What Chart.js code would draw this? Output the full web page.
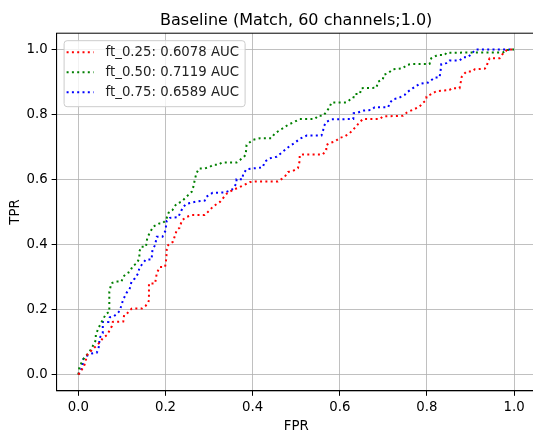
<!DOCTYPE html>
<html>
<head>
<meta charset="utf-8">
<script src="https://cdn.jsdelivr.net/npm/chart.js@4/dist/chart.umd.min.js"></script>
<style>
  html, body { margin: 0; padding: 0; background: #fff; overflow: hidden; }
  #wrap { width: 540px; height: 433px; position: relative; }
</style>
</head>
<body>
<div id="wrap"><canvas id="roc"></canvas></div>
<script>
// series names + AUC shown in legend
const seriesNames = ["ft_0.25", "ft_0.50", "ft_0.75"];
const aucValues = ["0.6078", "0.7119", "0.6589"];
const seriesColors = ["#ff0000", "#008000", "#0000ff"];

const xTicks = [0, 0.2, 0.4, 0.6, 0.8, 1.0];
const yTicks = [0, 0.2, 0.4, 0.6, 0.8, 1.0];

// ft_0.25 (red)
const fpr25 = [0, 0.006, 0.013, 0.016, 0.020, 0.033, 0.050, 0.056, 0.066, 0.072, 0.077, 0.079, 0.103, 0.105, 0.111, 0.118, 0.123, 0.146, 0.154, 0.160, 0.162, 0.162, 0.176, 0.180, 0.187, 0.199, 0.202, 0.203, 0.210, 0.217, 0.226, 0.232, 0.238, 0.249, 0.261, 0.290, 0.302, 0.309, 0.325, 0.341, 0.355, 0.371, 0.394, 0.407, 0.458, 0.467, 0.474, 0.481, 0.492, 0.504, 0.508, 0.508, 0.515, 0.561, 0.569, 0.569, 0.577, 0.589, 0.600, 0.611, 0.623, 0.630, 0.641, 0.653, 0.692, 0.699, 0.745, 0.754, 0.767, 0.783, 0.790, 0.799, 0.799, 0.811, 0.822, 0.852, 0.857, 0.875, 0.878, 0.880, 0.887, 0.891, 0.903, 0.910, 0.933, 0.937, 0.940, 0.944, 0.967, 0.975, 0.985, 1.0];
const tpr25 = [0, 0.011, 0.026, 0.038, 0.060, 0.078, 0.100, 0.112, 0.122, 0.137, 0.149, 0.162, 0.163, 0.183, 0.186, 0.198, 0.203, 0.203, 0.211, 0.220, 0.229, 0.280, 0.280, 0.312, 0.331, 0.331, 0.358, 0.394, 0.403, 0.408, 0.445, 0.451, 0.475, 0.485, 0.491, 0.491, 0.506, 0.517, 0.531, 0.557, 0.568, 0.577, 0.592, 0.594, 0.594, 0.602, 0.609, 0.623, 0.626, 0.635, 0.657, 0.675, 0.677, 0.677, 0.691, 0.706, 0.712, 0.717, 0.728, 0.732, 0.743, 0.752, 0.769, 0.786, 0.786, 0.794, 0.796, 0.806, 0.814, 0.824, 0.835, 0.845, 0.855, 0.863, 0.872, 0.875, 0.881, 0.881, 0.901, 0.916, 0.927, 0.932, 0.932, 0.939, 0.941, 0.947, 0.962, 0.973, 0.973, 0.988, 1.0, 1.0];

// ft_0.50 (green)
const fpr50 = [0, 0.002, 0.010, 0.019, 0.025, 0.031, 0.040, 0.040, 0.046, 0.056, 0.063, 0.071, 0.071, 0.076, 0.086, 0.099, 0.103, 0.111, 0.118, 0.125, 0.134, 0.140, 0.140, 0.144, 0.155, 0.158, 0.163, 0.172, 0.186, 0.193, 0.201, 0.208, 0.216, 0.225, 0.237, 0.252, 0.260, 0.264, 0.267, 0.271, 0.277, 0.290, 0.302, 0.309, 0.321, 0.329, 0.363, 0.371, 0.384, 0.386, 0.392, 0.401, 0.417, 0.443, 0.451, 0.470, 0.481, 0.497, 0.508, 0.543, 0.550, 0.562, 0.570, 0.577, 0.581, 0.615, 0.623, 0.631, 0.634, 0.646, 0.650, 0.684, 0.688, 0.699, 0.701, 0.711, 0.722, 0.745, 0.753, 0.764, 0.806, 0.810, 0.825, 0.841, 0.845, 0.975, 0.982, 1.0];
const tpr50 = [0, 0.020, 0.045, 0.060, 0.069, 0.082, 0.106, 0.122, 0.143, 0.168, 0.186, 0.193, 0.255, 0.281, 0.286, 0.286, 0.301, 0.311, 0.316, 0.334, 0.342, 0.358, 0.378, 0.393, 0.393, 0.419, 0.434, 0.455, 0.465, 0.465, 0.475, 0.501, 0.506, 0.525, 0.532, 0.552, 0.562, 0.578, 0.598, 0.619, 0.634, 0.634, 0.639, 0.645, 0.645, 0.652, 0.652, 0.660, 0.675, 0.706, 0.713, 0.722, 0.727, 0.727, 0.742, 0.758, 0.768, 0.778, 0.786, 0.786, 0.796, 0.796, 0.809, 0.824, 0.837, 0.837, 0.845, 0.850, 0.863, 0.863, 0.881, 0.882, 0.901, 0.908, 0.922, 0.927, 0.939, 0.942, 0.952, 0.955, 0.955, 0.973, 0.983, 0.983, 0.990, 0.991, 0.998, 1.0];

// ft_0.75 (blue)
const fpr75 = [0, 0.004, 0.010, 0.010, 0.015, 0.023, 0.031, 0.042, 0.046, 0.048, 0.048, 0.056, 0.056, 0.069, 0.072, 0.080, 0.088, 0.095, 0.099, 0.103, 0.111, 0.118, 0.122, 0.130, 0.137, 0.140, 0.145, 0.155, 0.168, 0.170, 0.176, 0.180, 0.193, 0.201, 0.201, 0.203, 0.210, 0.229, 0.237, 0.241, 0.248, 0.260, 0.271, 0.290, 0.294, 0.300, 0.308, 0.336, 0.352, 0.363, 0.363, 0.377, 0.378, 0.386, 0.423, 0.428, 0.439, 0.455, 0.466, 0.485, 0.497, 0.508, 0.524, 0.558, 0.562, 0.563, 0.569, 0.581, 0.631, 0.632, 0.642, 0.653, 0.673, 0.680, 0.711, 0.715, 0.722, 0.734, 0.749, 0.753, 0.768, 0.783, 0.803, 0.818, 0.829, 0.831, 0.833, 0.845, 0.852, 0.875, 0.883, 0.894, 0.902, 0.912, 1.0];
const tpr75 = [0, 0.008, 0.029, 0.045, 0.055, 0.060, 0.065, 0.067, 0.078, 0.096, 0.111, 0.127, 0.162, 0.162, 0.176, 0.178, 0.186, 0.196, 0.214, 0.231, 0.252, 0.265, 0.286, 0.296, 0.311, 0.327, 0.337, 0.354, 0.354, 0.383, 0.398, 0.424, 0.424, 0.445, 0.460, 0.473, 0.482, 0.484, 0.506, 0.516, 0.525, 0.529, 0.532, 0.535, 0.547, 0.552, 0.559, 0.560, 0.568, 0.588, 0.601, 0.601, 0.616, 0.632, 0.637, 0.655, 0.665, 0.670, 0.682, 0.703, 0.713, 0.725, 0.735, 0.735, 0.752, 0.762, 0.777, 0.785, 0.786, 0.804, 0.806, 0.812, 0.814, 0.822, 0.822, 0.836, 0.847, 0.850, 0.860, 0.867, 0.881, 0.894, 0.898, 0.914, 0.914, 0.929, 0.955, 0.958, 0.966, 0.966, 0.976, 0.976, 0.986, 1.0, 1.0];

const FONT = "'DejaVu Sans', 'Liberation Sans', sans-serif";

function toPoints(xs, ys) {
  return xs.map((x, i) => ({ x: x, y: ys[i] }));
}

const curves = [[fpr25, tpr25], [fpr50, tpr50], [fpr75, tpr75]];

const datasets = curves.map((c, i) => ({
  label: seriesNames[i] + ": " + aucValues[i] + " AUC",
  data: toPoints(c[0], c[1]),
  borderColor: seriesColors[i],
  backgroundColor: seriesColors[i],
  borderWidth: 2,
  borderDash: [2, 3.3],
  borderCapStyle: "butt",
  pointRadius: 0,
  tension: 0,
  fill: false,
}));

// frame on top of lines + matplotlib style legend box in the upper left
const framePlugin = {
  id: "frameAndLegend",
  afterDraw(chart) {
    const ctx = chart.ctx;
    const a = chart.chartArea;
    ctx.save();
    ctx.strokeStyle = "#000";
    ctx.lineWidth = 1;
    ctx.setLineDash([]);
    ctx.strokeRect(a.left, a.top, a.right - a.left, a.bottom - a.top);

    // legend
    const bx = a.left + 7, by = a.top + 7;
    const bw = 181, bh = 66;
    ctx.fillStyle = "rgba(255,255,255,0.8)";
    ctx.strokeStyle = "#cccccc";
    ctx.lineWidth = 1;
    ctx.beginPath();
    ctx.roundRect(bx + 0.5, by + 0.5, bw, bh, 3);
    ctx.fill();
    ctx.stroke();

    ctx.font = "13.3px " + FONT;
    ctx.textBaseline = "middle";
    chart.data.datasets.forEach((ds, i) => {
      const rowY = by + 12 + i * 20;
      ctx.strokeStyle = ds.borderColor;
      ctx.lineWidth = 2;
      ctx.setLineDash([2, 3.3]);
      ctx.beginPath();
      ctx.moveTo(bx + 3, rowY);
      ctx.lineTo(bx + 30, rowY);
      ctx.stroke();
      ctx.fillStyle = "#222";
      ctx.fillText(ds.label, bx + 42, rowY);
    });
    ctx.restore();
  },
};

new Chart(document.getElementById("roc"), {
  type: "line",
  data: { datasets: datasets },
  plugins: [framePlugin],
  options: {
    responsive: true,
    maintainAspectRatio: false,
    animation: false,
    layout: { padding: { left: 0, right: 4.2, top: 0, bottom: 0 } },
    plugins: {
      legend: { display: false },
      tooltip: { enabled: false },
      title: {
        display: true,
        text: "Baseline (Match, 60 channels;1.0)",
        fullSize: false,
        color: "#000",
        font: { family: FONT, size: 16, weight: "normal", lineHeight: 1.2 },
        padding: { top: 11, bottom: 3 },
      },
    },
    scales: {
      x: {
        type: "linear",
        min: -0.05,
        max: 1.05,
        afterBuildTicks: (s) => { s.ticks = xTicks.map((v) => ({ value: v })); },
        afterFit: (s) => { s.height = 42.2; },
        ticks: {
          color: "#000",
          padding: 4,
          font: { family: FONT, size: 13.3 },
          callback: (v) => Number(v).toFixed(1),
          maxRotation: 0,
        },
        grid: { color: "#b0b0b0", lineWidth: 0.8, drawTicks: true, tickLength: 5, tickColor: "#000", tickWidth: 1 },
        border: { display: true, color: "#000", width: 1 },
        title: { display: true, text: "FPR", color: "#000", font: { family: FONT, size: 13.3 }, padding: { top: 0, bottom: -2 } },
      },
      y: {
        type: "linear",
        min: -0.05,
        max: 1.05,
        afterBuildTicks: (s) => { s.ticks = yTicks.map((v) => ({ value: v })); },
        afterFit: (s) => { s.width = 56.6; },
        ticks: {
          color: "#000",
          padding: 4,
          font: { family: FONT, size: 13.3 },
          callback: (v) => Number(v).toFixed(1),
        },
        grid: { color: "#b0b0b0", lineWidth: 0.8, drawTicks: true, tickLength: 5, tickColor: "#000", tickWidth: 1 },
        border: { display: true, color: "#000", width: 1 },
        title: { display: true, text: "TPR", color: "#000", font: { family: FONT, size: 13.3 }, padding: { top: 8, bottom: 0 } },
      },
    },
  },
});
</script>
</body>
</html>
